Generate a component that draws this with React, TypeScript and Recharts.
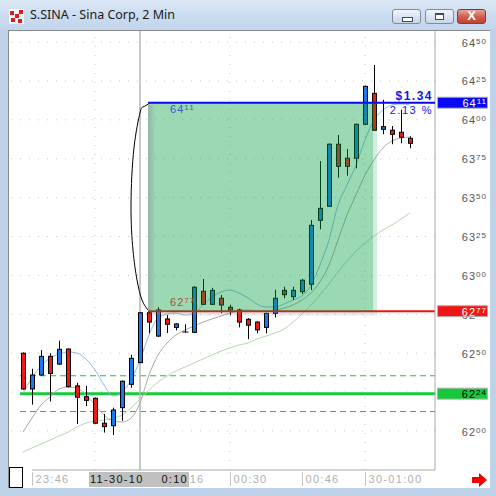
import React from "react";
import {
  ComposedChart,
  Bar,
  Line,
  XAxis,
  YAxis,
  ReferenceLine,
  ReferenceArea,
} from "recharts";

// S.SINA 2-minute candles, prices in cents
const opens = [6250, 6227, 6236, 6248, 6243, 6252.7, 6229, 6222, 6221, 6205, 6203.4, 6215, 6230, 6244, 6276, 6261, 6272, 6266.6, 6263.6, 6263.4, 6289.8, 6281.4, 6285.3, 6279.5, 6277.8, 6271.8, 6270, 6266.6, 6275.6, 6290.4, 6286.3, 6289.5, 6294.3, 6335.4, 6344.4, 6384.3, 6375.3, 6375.3, 6397.1, 6417, 6393.9, 6393.3, 6392, 6388.1];
const highs = [6250.5, 6240, 6252, 6250, 6258, 6253, 6231, 6229, 6221.5, 6211, 6215, 6232.5, 6249, 6276.5, 6277.8, 6279.5, 6274.5, 6269.3, 6268.6, 6293, 6297.7, 6292, 6287.4, 6281.2, 6278.6, 6272.5, 6270.5, 6276, 6290.8, 6292.7, 6292.7, 6297.7, 6335.6, 6373.5, 6384.8, 6390.2, 6381.2, 6397.6, 6422, 6435.2, 6412.9, 6396, 6406.5, 6389.4];
const lows = [6226.5, 6217, 6235.5, 6219, 6242.5, 6228, 6204.5, 6216, 6204.5, 6199, 6197.4, 6206.6, 6227.8, 6243.5, 6262.8, 6260.5, 6263, 6264.7, 6263.4, 6263, 6281, 6281, 6275.6, 6274.4, 6266.6, 6259, 6262.8, 6262.8, 6273, 6285.3, 6284.2, 6288, 6290.6, 6329.6, 6344, 6362.8, 6364.1, 6368.8, 6396.6, 6393, 6390.7, 6384.3, 6384.9, 6381.7];
const closes = [6227, 6236, 6248, 6237, 6252.5, 6228.5, 6221.7, 6219.7, 6205, 6202.8, 6213.5, 6232, 6246.7, 6276, 6270, 6277.8, 6268.6, 6268.8, 6263.6, 6292.4, 6281.4, 6290.4, 6281, 6277.6, 6270, 6268, 6265, 6275.6, 6285.3, 6287.6, 6290.4, 6296.9, 6332.2, 6343.1, 6384.3, 6370.1, 6370.1, 6397.1, 6421.5, 6393.3, 6395.6, 6390.7, 6388.8, 6384.9];

// moving averages
const fastMa = [6224.4, 6234.1, 6241.8, 6246.9, 6249.5, 6250.8, 6250.1, 6246.3, 6239.2, 6229.6, 6222.5, 6225.1, 6232.8, 6245.6, 6261.7, 6272.6, 6275.2, 6275.8, 6274.5, 6275.8, 6281.0, 6286.1, 6289.3, 6290.6, 6288.7, 6285.5, 6281.6, 6279.7, 6279.7, 6281.6, 6284.2, 6286.8, 6293.8, 6306.7, 6322.7, 6345.2, 6358.1, 6370.9, 6387.0, 6399.9, 6406.3, 6409.5, 6410.2, 6409.5];
const midMa = [6199.3, 6208.3, 6216.7, 6221.8, 6227.0, 6228.3, 6227.6, 6223.1, 6216.7, 6210.3, 6206.4, 6205.8, 6208.3, 6218.0, 6236.0, 6248.8, 6256.5, 6261.7, 6264.9, 6267.5, 6270.0, 6272.0, 6273.9, 6275.8, 6277.1, 6277.8, 6277.1, 6277.1, 6277.8, 6279.0, 6281.0, 6284.2, 6288.7, 6295.8, 6306.7, 6322.7, 6338.8, 6351.7, 6364.5, 6374.2, 6381.9, 6386.4, 6388.3, 6388.9];
const slowMa = [6186.5, 6189.1, 6191.6, 6194.2, 6196.8, 6199.3, 6202.6, 6205.1, 6206.4, 6207.1, 6208.3, 6210.3, 6214.8, 6220.6, 6226.3, 6231.5, 6235.3, 6238.6, 6241.1, 6243.7, 6246.3, 6248.8, 6251.4, 6253.3, 6255.3, 6256.5, 6259.1, 6261.0, 6263.0, 6265.5, 6270.0, 6275.2, 6281.0, 6287.4, 6294.5, 6302.2, 6309.2, 6315.7, 6320.8, 6325.3, 6329.2, 6332.4, 6336.2, 6340.1];

// axes
const priceTicks = [6200, 6225, 6250, 6275, 6300, 6325, 6350, 6375, 6400, 6425, 6450];
const timeTickIdx = [1, 16, 23, 31, 38];
const timeTickLabels = ["23:46", "00:16", "00:30", "00:46", "30-01:00"];
const gridIdx = [8, 23, 38];
const cursorIdx = 13;
const cursorDate = "11-30-10";
const cursorTime = "0:10";

// trade levels
const targetPrice = 6411;
const entryPrice = 6277;
const stopPrice = 6224;
const stopBandHigh = 6235.5;
const stopBandLow = 6212.5;
const zoneStart = 13.9;
const zoneEnd = 38.9;
const gainText = "$1.34";
const gainPct = "2.13 %";

// hand-drawn bracket beside the zone
const bracketIdx = [14.11, 13.33, 13.0, 12.33, 12.0, 12.22, 12.67, 13.22, 13.89];
const bracketPrice = [6410.8, 6408.2, 6404.4, 6381.9, 6345.2, 6316.3, 6297.0, 6284.2, 6277.8];

const X_MIN = -1.5556;
const X_MAX = 45.778;
const Y_MIN = 6174.94;
const Y_MAX = 6457.07;
const FONT = "'Liberation Sans', Arial, sans-serif";

const data = opens.map((o, i) => ({
  i,
  o,
  h: highs[i],
  l: lows[i],
  c: closes[i],
  fast: fastMa[i],
  mid: midMa[i],
  slow: slowMa[i],
}));

const bracketData = bracketIdx.map((i, k) => ({ i, p: bracketPrice[k] }));

const minorTicks: number[] = [];
for (let p = 6180; p <= 6455; p += 5) minorTicks.push(p);

const markColors: Record<number, { bg: string; fg: string }> = {
  [targetPrice]: { bg: "#0a0af2", fg: "#ffffff" },
  [entryPrice]: { bg: "#f01616", fg: "#ffffff" },
  [stopPrice]: { bg: "#16c83c", fg: "#000000" },
};

const splitPrice = (v: number) => {
  const s = String(v);
  return [s.slice(0, 2), s.slice(2)];
};

const Candle = (props: any) => {
  const { x, y, width, height, payload } = props;
  if (x == null || y == null) return null;
  const top = Math.min(y, y + height);
  const bot = Math.max(y, y + height);
  const { o, h, l, c } = payload;
  const k = h === l ? 0 : (bot - top) / (h - l);
  const py = (p: number) => top + (h - p) * k;
  const cx = Math.round(x + width / 2) + 0.5;
  const bt = Math.min(py(o), py(c));
  const bb = Math.max(py(o), py(c));
  return (
    <g>
      <line x1={cx} x2={cx} y1={top} y2={bot} stroke="#000" />
      {bb - bt < 0.8 ? (
        <line x1={cx - 3} x2={cx + 3} y1={bt} y2={bt} stroke="#000" />
      ) : (
        <rect
          x={cx - 2}
          y={bt}
          width={4}
          height={bb - bt}
          fill={c >= o ? "#1a78f0" : "#ee1a1a"}
          stroke="#000"
        />
      )}
    </g>
  );
};

const PriceTick = (props: any) => {
  const { y, payload } = props;
  const v = payload.value;
  const [hi, lo] = splitPrice(v);
  const mark = markColors[v];
  return (
    <g>
      {mark && (
        <rect x={437.5} y={y - 5.5} width={50} height={11} fill={mark.bg} stroke="#b4b4b4" />
      )}
      <text
        x={487}
        y={y + 4.5}
        textAnchor="end"
        fill={mark ? mark.fg : "#555"}
        fontFamily={FONT}
        letterSpacing={1}
      >
        <tspan fontSize={11}>{hi}</tspan>
        <tspan fontSize={8} dy={-3}>
          {lo}
        </tspan>
      </text>
    </g>
  );
};

const TimeTick = (props: any) => {
  const { x, payload } = props;
  const v = payload.value;
  if (v === cursorIdx) {
    return (
      <g fontFamily={FONT} fontSize={11} letterSpacing={1.3}>
        <rect x={x - 51} y={472} width={100} height={15} fill="#c0c0c0" />
        <text x={x - 50} y={483} fill="#111">
          {cursorDate}
        </text>
        <text x={x + 48} y={483} fill="#111" textAnchor="end">
          {cursorTime}
        </text>
      </g>
    );
  }
  const k = timeTickIdx.indexOf(v);
  const sx = Math.round(x) + 0.5;
  return (
    <g>
      <line x1={sx} x2={sx} y1={472} y2={486} stroke="#c4c4c4" />
      <text
        x={sx + 3}
        y={483}
        fill="#b0b0b0"
        fontFamily={FONT}
        fontSize={11}
        letterSpacing={1.3}
      >
        {timeTickLabels[k]}
      </text>
    </g>
  );
};

const ZoneLabel = (text: string, color: string, dy: number) => (p: any) => {
  const vb = p.viewBox || {};
  const [hi, lo] = splitPrice(Number(text));
  return (
    <text x={vb.x + 22} y={vb.y + dy} fill={color} fontFamily={FONT} letterSpacing={1}>
      <tspan fontSize={11}>{hi}</tspan>
      <tspan fontSize={8} dy={-3}>
        {lo}
      </tspan>
    </text>
  );
};

const GainLabel = (p: any) => {
  const vb = p.viewBox || {};
  const right = vb.x + vb.width - 2;
  return (
    <g fontFamily={FONT} fill="#1414ee">
      <text x={right} y={vb.y - 3} textAnchor="end" fontSize={12} fontWeight="bold" letterSpacing={1.5}>
        {gainText}
      </text>
      <text x={right} y={vb.y + 11} textAnchor="end" fontSize={11} letterSpacing={1.5}>
        {gainPct}
      </text>
    </g>
  );
};

const WinButton = ({ left, red, children }: any) => (
  <div
    style={{
      position: "absolute",
      left,
      top: 9,
      width: 29,
      height: 15,
      borderRadius: 3,
      border: red ? "1px solid #8c3a32" : "1px solid #7b8ba3",
      background: red
        ? "linear-gradient(#e9a498, #d0604f 50%, #c2402f)"
        : "linear-gradient(#f2f6fb, #dbe4f0 50%, #c9d6e7)",
      boxSizing: "border-box",
    }}
  >
    {children}
  </div>
);

export default function App() {
  return (
    <div
      style={{
        position: "absolute",
        left: 0,
        top: 0,
        width: 496,
        height: 496,
        background: "#bed3ea",
        overflow: "hidden",
      }}
    >
      {/* title bar */}
      <div
        style={{
          position: "absolute",
          left: 0,
          top: 0,
          width: 496,
          height: 30,
          background: "linear-gradient(#dbe7f5, #c9dbef 60%, #c1d5ec)",
        }}
      />
      <svg style={{ position: "absolute", left: 9, top: 9 }} width={15} height={15}>
        <rect x={0} y={0} width={15} height={15} fill="#f4f4f4" />
        <rect x={1} y={2} width={4} height={4} fill="#d42020" />
        <rect x={6} y={5} width={4} height={4} fill="#d42020" />
        <rect x={10} y={1} width={4} height={4} fill="#d42020" />
        <rect x={2} y={9} width={4} height={4} fill="#d42020" />
        <rect x={9} y={10} width={4} height={4} fill="#d42020" />
      </svg>
      <div
        style={{
          position: "absolute",
          left: 30,
          top: 6,
          fontFamily: "'Noto Sans', sans-serif",
          fontSize: 12.5,
          lineHeight: "18px",
          color: "#1a1a1a",
          whiteSpace: "nowrap",
        }}
      >
        S.SINA - Sina Corp, 2 Min
      </div>
      <WinButton left={392}>
        <div
          style={{
            position: "absolute",
            left: 9,
            top: 7,
            width: 9,
            height: 3,
            background: "#fff",
            border: "1px solid #3c4a60",
          }}
        />
      </WinButton>
      <WinButton left={425}>
        <div
          style={{
            position: "absolute",
            left: 9,
            top: 3,
            width: 9,
            height: 7,
            background: "#fff",
            border: "1px solid #3c4a60",
            boxSizing: "border-box",
            borderTopWidth: 2,
          }}
        />
      </WinButton>
      <WinButton left={457} red>
        <div
          style={{
            position: "absolute",
            left: 0,
            top: -2,
            width: 27,
            textAlign: "center",
            color: "#fff",
            fontFamily: FONT,
            fontWeight: "bold",
            fontSize: 13,
            lineHeight: "16px",
          }}
        >
          X
        </div>
      </WinButton>

      {/* client area */}
      <div
        style={{
          position: "absolute",
          left: 8,
          top: 30,
          width: 482,
          height: 458,
          background: "#fff",
          borderTop: "1px solid #8a8a8a",
          borderLeft: "1px solid #8a8a8a",
          boxSizing: "border-box",
        }}
      />

      <div style={{ position: "absolute", left: 0, top: 0 }}>
        <ComposedChart
          width={496}
          height={496}
          data={data}
          margin={{ top: 31, right: 0, left: 9, bottom: 0 }}
        >
          <defs>
            <linearGradient id="shadeLeft" x1="0" y1="0" x2="1" y2="0">
              <stop offset="0%" stopColor="#8a8a8a" stopOpacity={0.95} />
              <stop offset="100%" stopColor="#8a8a8a" stopOpacity={0} />
            </linearGradient>
            <linearGradient id="shadeBottom" x1="0" y1="0" x2="0" y2="1">
              <stop offset="0%" stopColor="#8a8a8a" stopOpacity={0.7} />
              <stop offset="100%" stopColor="#8a8a8a" stopOpacity={0} />
            </linearGradient>
          </defs>

          <XAxis
            dataKey="i"
            type="number"
            domain={[X_MIN, X_MAX]}
            allowDataOverflow
            ticks={[...timeTickIdx, cursorIdx]}
            interval={0}
            height={26}
            tickLine={false}
            axisLine={false}
            tick={TimeTick}
          />
          <YAxis
            orientation="right"
            width={61}
            type="number"
            domain={[Y_MIN, Y_MAX]}
            allowDataOverflow
            ticks={[...priceTicks, stopPrice, entryPrice, targetPrice]}
            interval={0}
            tickLine={false}
            axisLine={{ stroke: "#a8a8a8" }}
            tick={PriceTick}
          />
          <YAxis
            yAxisId="minorLeft"
            orientation="left"
            mirror
            type="number"
            domain={[Y_MIN, Y_MAX]}
            allowDataOverflow
            ticks={minorTicks}
            interval={0}
            tick={false}
            tickSize={3}
            axisLine={false}
            tickLine={{ stroke: "#a0a0a0" }}
          />
          <YAxis
            yAxisId="minorRight"
            orientation="right"
            mirror
            type="number"
            domain={[Y_MIN, Y_MAX]}
            allowDataOverflow
            ticks={minorTicks}
            interval={0}
            tick={false}
            tickSize={3}
            axisLine={false}
            tickLine={{ stroke: "#a0a0a0" }}
          />

          {/* dotted grid */}
          {priceTicks.map((p) => (
            <ReferenceLine key={"g" + p} y={p} stroke="#c6c6c6" strokeDasharray="1 8" zIndex={-50} />
          ))}
          {gridIdx.map((g) => (
            <ReferenceLine key={"v" + g} x={g} stroke="#c6c6c6" strokeDasharray="1 8" zIndex={-50} />
          ))}
          <ReferenceLine
            segment={[
              { x: timeTickIdx[0], y: Y_MIN },
              { x: X_MAX, y: Y_MIN },
            ]}
            stroke="#a8a8a8"
          />

          {/* stop levels */}
          <ReferenceLine
            segment={[
              { x: -0.33, y: stopBandHigh },
              { x: X_MAX, y: stopBandHigh },
            ]}
            stroke="#2cb844"
            strokeDasharray="6 4"
            zIndex={-10}
          />
          <ReferenceLine
            segment={[
              { x: -0.33, y: stopBandLow },
              { x: X_MAX, y: stopBandLow },
            ]}
            stroke="#2cb844"
            strokeDasharray="6 4"
            zIndex={-10}
          />
          <ReferenceLine
            segment={[
              { x: -0.33, y: stopPrice },
              { x: X_MAX, y: stopPrice },
            ]}
            stroke="#14cc38"
            strokeWidth={3}
            zIndex={-10}
          />

          {/* crosshair */}
          <ReferenceLine x={cursorIdx} stroke="#b6b6b6" strokeWidth={1.5} zIndex={-5} />

          <Line dataKey="slow" stroke="#b6d8ae" dot={false} type="monotone" isAnimationActive={false} zIndex={250} />
          <Line dataKey="mid" stroke="#aaaaaa" dot={false} type="monotone" isAnimationActive={false} zIndex={250} />
          <Line dataKey="fast" stroke="#8db8e8" dot={false} type="monotone" isAnimationActive={false} zIndex={250} />

          <Bar
            dataKey={(d: any) => [d.l, d.h]}
            barSize={6}
            shape={Candle}
            isAnimationActive={false}
            zIndex={300}
          />

          <Line
            data={bracketData}
            dataKey="p"
            type="natural"
            stroke="#000"
            dot={false}
            isAnimationActive={false}
            zIndex={320}
          />

          {/* entry line sits under the profit zone */}
          <ReferenceLine
            segment={[
              { x: zoneStart, y: entryPrice },
              { x: X_MAX, y: entryPrice },
            ]}
            stroke="#f41010"
            strokeWidth={2}
            zIndex={340}
          />

          {/* profit zone */}
          <ReferenceArea
            x1={zoneStart}
            x2={zoneEnd}
            y1={entryPrice}
            y2={targetPrice}
            fill="#05a046"
            fillOpacity={0.4}
            stroke="none"
            zIndex={650}
          />
          <ReferenceArea
            x1={zoneEnd}
            x2={zoneEnd + 0.45}
            y1={entryPrice}
            y2={targetPrice}
            fill="#05a046"
            fillOpacity={0.18}
            stroke="none"
            zIndex={650}
          />
          <ReferenceArea
            x1={zoneStart}
            x2={zoneStart + 0.8}
            y1={entryPrice}
            y2={targetPrice - 1.5}
            fill="url(#shadeLeft)"
            stroke="none"
            zIndex={660}
          />
          <ReferenceArea
            x1={zoneStart + 0.2}
            x2={zoneEnd + 0.45}
            y1={entryPrice - 3.5}
            y2={entryPrice - 0.6}
            fill="url(#shadeBottom)"
            stroke="none"
            zIndex={660}
          />

          <ReferenceLine
            segment={[
              { x: zoneStart, y: entryPrice },
              { x: X_MAX, y: entryPrice },
            ]}
            stroke="none"
            label={ZoneLabel(String(entryPrice), "#b44a38", -5)}
            zIndex={700}
          />
          <ReferenceLine
            segment={[
              { x: zoneStart, y: targetPrice },
              { x: X_MAX, y: targetPrice },
            ]}
            stroke="#0808f0"
            strokeWidth={2}
            label={GainLabel}
            zIndex={700}
          />
          <ReferenceLine
            segment={[
              { x: zoneStart, y: targetPrice },
              { x: X_MAX, y: targetPrice },
            ]}
            stroke="none"
            label={ZoneLabel(String(targetPrice), "#3a5cc0", 10)}
            zIndex={700}
          />
        </ComposedChart>
      </div>

      {/* bottom-left marker box and scroll arrow */}
      <div
        style={{
          position: "absolute",
          left: 9,
          top: 467,
          width: 14,
          height: 21,
          border: "1px solid #000",
          background: "#fff",
          boxSizing: "border-box",
        }}
      />
      <svg style={{ position: "absolute", left: 470, top: 472 }} width={20} height={16}>
        <polygon points="2,5 9,5 9,1 17,8 9,15 9,11 2,11" fill="#f00000" />
      </svg>
    </div>
  );
}
